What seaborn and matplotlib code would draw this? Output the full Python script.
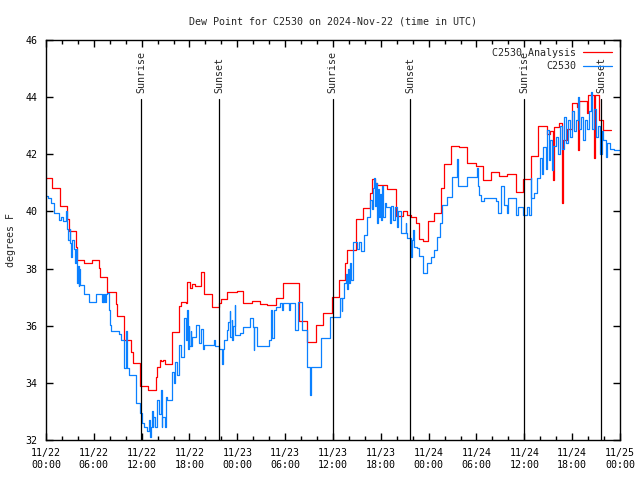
import pandas as pd
import seaborn as sns
import matplotlib
matplotlib.use("Agg")
import matplotlib.pyplot as plt
import matplotlib.dates as mdates

start = pd.Timestamp("2024-11-22 00:00")

# Analysis (red) - hours since 11/22 00:00 UTC, dew point degF (step data)
ana_hours = [0.00, 0.79, 1.72, 2.67, 2.92, 3.73, 3.93, 4.77, 5.73, 6.69, 6.77, 7.69, 8.74, 8.87,
             9.78, 10.70, 10.88, 11.79, 12.79, 13.76, 13.96, 14.26, 14.46, 14.68, 14.89, 15.84,
             16.68, 16.97, 17.52, 17.69, 18.03, 18.28, 18.73, 19.41, 19.82, 20.86, 21.70, 21.91,
             22.74, 24.00, 24.75, 25.88, 26.81, 27.76, 28.81, 29.77, 31.74, 32.78, 33.83, 34.79,
             35.91, 36.75, 37.51, 37.80, 38.85, 39.80, 40.58, 40.89, 41.21, 41.52, 42.81, 43.90,
             44.78, 45.32, 45.75, 46.37, 46.79, 47.33, 47.92, 48.67, 49.59, 49.93, 50.84, 51.81,
             52.85, 53.90, 54.86, 55.86, 56.82, 57.87, 58.92, 59.83, 60.80, 61.76, 62.81, 63.22,
             63.60, 63.72, 64.35, 64.73, 64.85, 65.35, 65.94, 66.57, 66.73, 66.86, 67.83, 67.99,
             68.74, 68.87, 69.37, 69.87, 70.84]
ana_vals = [41.16, 40.81, 40.19, 39.72, 39.30, 38.77, 38.30, 38.18, 38.30, 38.01, 37.72, 37.17, 36.76, 36.35,
            35.50, 35.09, 34.71, 33.89, 33.75, 34.19, 34.57, 34.80, 34.75, 34.80, 34.66, 35.79,
            36.69, 36.84, 36.80, 37.54, 37.31, 37.46, 37.39, 37.89, 37.11, 36.67, 36.78, 36.92,
            37.17, 37.23, 36.81, 36.88, 36.76, 36.73, 36.96, 37.51, 36.17, 35.42, 36.03, 36.46,
            36.99, 37.60, 38.20, 38.65, 39.72, 40.11, 40.63, 41.12, 41.00, 40.93, 40.78, 39.84,
            40.03, 39.88, 39.80, 39.58, 39.03, 38.98, 39.68, 39.96, 40.81, 41.66, 42.29, 42.24,
            41.71, 41.60, 41.10, 41.37, 41.24, 41.30, 40.67, 41.14, 41.95, 43.00, 42.70, 42.80,
            41.10, 42.97, 43.08, 40.30, 42.50, 42.90, 43.81, 43.67, 42.15, 43.85, 43.43, 44.07,
            41.86, 44.07, 43.20, 42.85, 42.85]

# Observed station (blue)
obs_hours = [0.00, 0.29, 0.59, 1.00, 1.63, 1.92, 2.17, 2.51, 2.63, 2.82, 2.95, 3.07, 3.14, 3.26, 3.55,
             3.68, 3.76, 3.83, 3.95, 4.01, 4.08, 4.20, 4.26, 4.77, 5.39, 6.31, 7.02, 7.11, 7.21, 7.31,
             7.40, 7.49, 7.65, 7.90, 7.97, 8.15, 9.16, 9.47, 9.78, 10.00, 10.10, 10.41, 11.33, 11.75,
             12.08, 12.29, 12.63, 12.96, 13.05, 13.21, 13.33, 13.42, 13.46, 13.64, 13.96, 14.17,
             14.39, 14.51, 14.59, 14.93, 15.09, 15.22, 15.84, 16.06, 16.14, 16.40, 16.68, 16.90,
             17.31, 17.52, 17.65, 17.75, 17.88, 18.00, 18.13, 18.25, 18.35, 18.78, 19.19, 19.48,
             19.66, 19.82, 21.07, 21.14, 21.70, 22.12, 22.17, 22.33, 22.67, 22.83, 23.08, 23.14,
             23.27, 23.33, 23.46, 23.67, 23.71, 24.34, 24.75, 25.55, 25.97, 26.09, 26.15, 26.43,
             27.97, 28.19, 28.35, 28.60, 28.81, 29.35, 29.64, 29.73, 30.48, 30.57, 31.20, 31.61,
             32.15, 32.70, 33.12, 33.20, 34.53, 35.63, 36.84, 37.07, 37.13, 37.38, 37.59, 37.80,
             37.92, 38.05, 38.17, 38.32, 38.55, 39.01, 39.26, 39.55, 39.89, 40.30, 40.64, 40.89,
             41.06, 41.14, 41.27, 41.40, 41.52, 41.65, 41.77, 41.90, 42.02, 42.15, 42.27, 42.52,
             42.71, 43.15, 43.28, 43.53, 43.78, 44.07, 44.15, 44.49, 45.12, 45.16, 45.32, 45.75,
             45.87, 46.04, 46.10, 46.58, 46.79, 47.33, 47.75, 48.26, 48.67, 49.09, 49.42, 49.71,
             50.26, 50.97, 51.59, 51.72, 52.85, 54.10, 54.23, 54.32, 54.60, 54.94, 56.41, 56.70,
             57.04, 57.45, 57.79, 57.95, 58.92, 59.21, 59.87, 60.30, 60.59, 60.80, 60.88, 61.21,
             61.55, 61.97, 62.22, 62.38, 62.72, 62.85, 63.10, 63.22, 63.47, 63.64, 63.97, 64.23,
             64.48, 64.73, 64.98, 65.23, 65.48, 65.73, 65.98, 66.23, 66.48, 66.73, 66.86, 67.11,
             67.36, 67.61, 67.86, 68.11, 68.36, 68.49, 68.74, 68.99, 69.24, 69.49, 69.68, 69.87,
             70.25, 70.37, 70.75, 71.25, 72.00]
obs_vals = [40.54, 40.46, 40.28, 39.93, 39.70, 39.82, 39.65, 40.00, 39.37, 39.00, 39.37, 38.90, 38.42, 39.00, 38.67,
            38.20, 38.67, 38.00, 37.50, 38.10, 37.40, 38.00, 37.43, 37.10, 36.82, 37.10, 36.82, 37.10, 36.82, 37.10,
            36.82, 37.10, 37.16, 36.55, 36.03, 35.83, 35.70, 35.50, 34.53, 35.83, 34.53, 34.28, 33.28, 32.93,
            32.58, 32.47, 32.33, 32.70, 32.09, 32.47, 33.03, 32.47, 32.82, 32.47, 33.40, 32.90,
            33.75, 32.47, 32.82, 32.47, 33.52, 33.40, 34.39, 34.00, 34.74, 34.28, 35.33, 34.92,
            36.26, 35.50, 36.55, 35.20, 36.00, 35.30, 35.80, 35.30, 35.60, 36.03, 35.40, 35.90,
            35.20, 35.33, 35.50, 35.30, 35.17, 34.66, 35.17, 35.50, 35.85, 36.14, 36.50, 35.60,
            36.20, 35.50, 36.00, 36.73, 35.68, 35.75, 35.97, 36.26, 35.97, 35.15, 35.97, 35.29,
            35.50, 36.55, 35.56, 36.55, 36.64, 36.81, 36.55, 36.81, 36.55, 36.81, 35.85, 36.82,
            35.85, 34.57, 33.58, 34.57, 35.56, 36.32, 36.96, 36.50, 36.96, 37.50, 37.81, 37.30,
            38.00, 37.50, 38.20, 37.60, 38.94, 38.70, 38.94, 38.60, 39.18, 39.82, 40.40, 40.10,
            40.81, 41.16, 40.20, 41.00, 39.60, 40.80, 39.80, 40.60, 39.70, 40.90, 39.80, 40.30,
            40.17, 39.60, 40.20, 39.70, 40.17, 39.47, 40.00, 39.23, 39.60, 39.23, 39.06, 38.42,
            39.00, 39.35, 38.75, 38.71, 38.44, 37.83, 38.18, 38.42, 38.65, 39.10, 39.58, 40.23,
            40.52, 41.20, 41.82, 40.89, 41.22, 41.51, 40.89, 40.58, 40.35, 40.46, 40.35, 39.93,
            40.89, 40.23, 39.93, 40.46, 39.88, 40.14, 39.88, 40.14, 39.88, 41.16, 40.46, 40.63,
            41.16, 41.86, 41.30, 42.27, 41.50, 42.85, 41.80, 42.50, 41.45, 42.30, 42.60, 42.00,
            43.00, 42.20, 43.30, 42.40, 43.20, 42.60, 43.50, 42.80, 43.20, 44.00, 42.90, 43.30,
            42.50, 43.20, 42.90, 43.50, 44.17, 42.90, 43.60, 42.60, 43.00, 42.00, 42.80, 42.50,
            41.92, 42.40, 42.20, 42.15, 42.15]

sun_hours = [11.92, 21.70, 35.97, 45.66, 60.00, 69.62]
sun_labels = ["Sunrise", "Sunset", "Sunrise", "Sunset", "Sunrise", "Sunset"]

ana = pd.DataFrame({"time": start + pd.to_timedelta(ana_hours, unit="h"), "dewpt": ana_vals})
obs = pd.DataFrame({"time": start + pd.to_timedelta(obs_hours, unit="h"), "dewpt": obs_vals})

sns.set_style("ticks")
plt.rcParams["font.family"] = ["DejaVu Sans Mono"]
fs = 7.2
plt.rcParams["font.size"] = fs

fig = plt.figure(figsize=(6.4, 4.8), dpi=100)
ax = fig.add_axes([46 / 640, 40 / 480, 574 / 640, 400 / 480])

sns.lineplot(data=ana, x="time", y="dewpt", ax=ax, estimator=None, drawstyle="steps-post",
             color="#ff0000", linewidth=0.9, label="C2530 Analysis")
sns.lineplot(data=obs, x="time", y="dewpt", ax=ax, estimator=None, drawstyle="steps-post",
             color="#0a80ff", linewidth=0.9, label="C2530")

# sunrise / sunset markers
for h, lab in zip(sun_hours, sun_labels):
    t = start + pd.Timedelta(hours=h)
    ax.plot([t, t], [32, 43.95], color="black", linewidth=0.9)
    ax.text(t, 44.15, lab, rotation=90, ha="center", va="bottom", fontsize=fs)

ax.set_xlim(start, start + pd.Timedelta(hours=72))
ax.set_ylim(32, 46)
ax.set_yticks(range(32, 47, 2))
ax.xaxis.set_major_locator(mdates.HourLocator(byhour=[0, 6, 12, 18]))
ax.xaxis.set_minor_locator(mdates.HourLocator(interval=2))
ax.xaxis.set_major_formatter(mdates.DateFormatter("%m/%d\n%H:%M"))
ax.tick_params(which="both", direction="in", top=True, right=True, width=1, colors="black", labelsize=fs)
ax.tick_params(which="major", length=5, pad=6)
ax.tick_params(which="minor", length=3)
for s in ax.spines.values():
    s.set_linewidth(1.0)
    s.set_color("black")

ax.set_xlabel("")
ax.set_ylabel("degrees F", fontsize=fs, labelpad=7)
ax.set_title("Dew Point for C2530 on 2024-Nov-22 (time in UTC)", fontsize=fs, pad=11)

ax.legend(loc="upper right", frameon=False, markerfirst=False, fontsize=fs,
          handlelength=2.9, handletextpad=0.7, borderaxespad=0.6, borderpad=0.2,
          labelspacing=0.35)

fig.savefig("out.png", dpi=100)
